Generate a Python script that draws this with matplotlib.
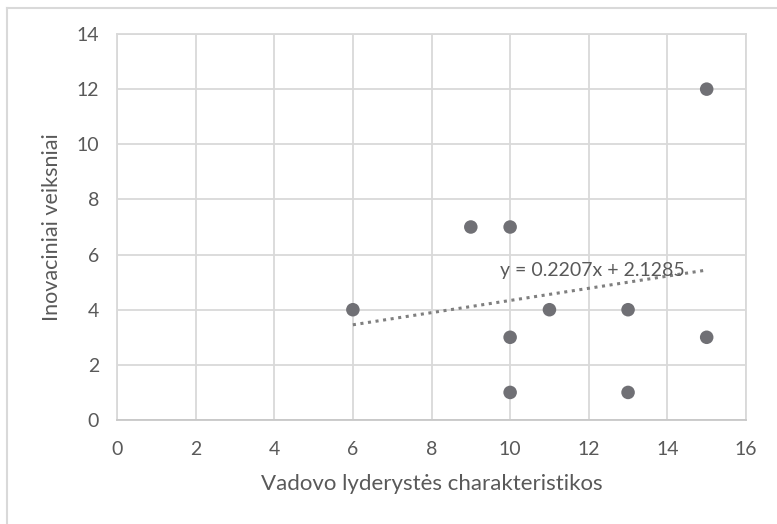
import matplotlib
matplotlib.use("Agg")
import matplotlib.pyplot as plt
import numpy as np

x_vals = [6, 9, 10, 10, 10, 11, 13, 13, 15, 15]
y_vals = [4, 7, 7, 3, 1, 4, 4, 1, 12, 3]
slope = 0.2207
intercept = 2.1285
x_ticks = [0, 2, 4, 6, 8, 10, 12, 14, 16]
y_ticks = [0, 2, 4, 6, 8, 10, 12, 14]
x_label = "Vadovo lyderystės charakteristikos"
y_label = "Inovaciniai veiksniai"
eq_text = "y = 0.2207x + 2.1285"

plt.rcParams['font.family'] = ['Lato', 'DejaVu Sans']
txt = '#595959'
grid = '#d9d9d9'

fig = plt.figure(figsize=(7.77, 5.24), dpi=100)
# outer chart border (left and top visible)
fig.add_artist(plt.Line2D([7/777, 7/777], [0, 1 - 8/524], color='#d9d9d9', lw=1.5))
fig.add_artist(plt.Line2D([7/777, 1], [1 - 8/524, 1 - 8/524], color='#d9d9d9', lw=1.5))

ax = fig.add_axes([117/777, 1 - 420/524, (746 - 117)/777, (420 - 34)/524])
ax.set_xlim(0, 16)
ax.set_ylim(0, 14)
ax.set_xticks(x_ticks)
ax.set_yticks(y_ticks)
ax.grid(True, color=grid, lw=1.3)
ax.set_axisbelow(True)
for s in ax.spines.values():
    s.set_color(grid)
    s.set_linewidth(1.3)
ax.spines['bottom'].set_color('#c8c8c8')
ax.tick_params(length=0, labelsize=14, labelcolor=txt)
ax.tick_params(axis='x', pad=15)
ax.tick_params(axis='y', pad=13)

xs = np.array([min(x_vals), max(x_vals)])
ax.plot(xs, slope * xs + intercept, linestyle=(0, (1, 1.5)), color='#7f7f7f', lw=2.2, zorder=2)
ax.scatter(x_vals, y_vals, s=95, color='#707075', zorder=3, edgecolors='none')
ax.text(9.75, 5.42, eq_text, fontsize=14, color=txt, va='center', ha='left', zorder=4)

ax.set_xlabel(x_label, fontsize=16, color=txt, labelpad=12)
ax.set_ylabel(y_label, fontsize=15.5, color=txt, labelpad=10)

fig.savefig("out.png", dpi=100)
